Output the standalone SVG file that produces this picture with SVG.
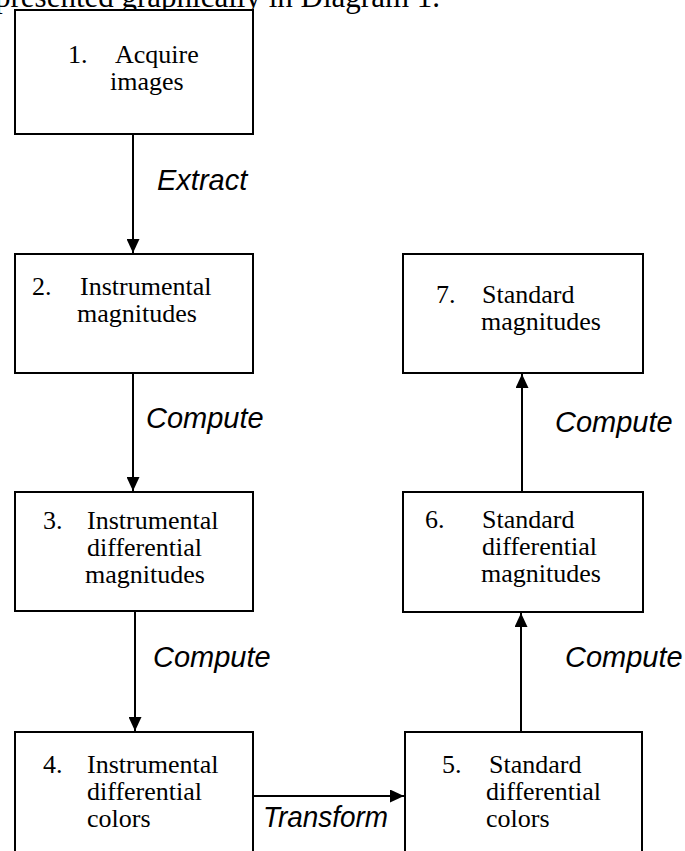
<svg xmlns="http://www.w3.org/2000/svg" width="685" height="851" viewBox="0 0 685 851">
<style>
.box{fill:#fff;stroke:#000;stroke-width:2}
.t{font-family:"Liberation Serif","Times New Roman",serif;font-size:26px;fill:#000}
.lbl{font-family:"Liberation Sans",Arial,sans-serif;font-size:29px;font-style:italic;fill:#000}
.c{stroke:#000;stroke-width:2;fill:none;marker-end:url(#ah)}
</style>
<defs>
<marker id="ah" viewBox="0 0 14 13" refX="14" refY="6.5" markerWidth="14" markerHeight="13" markerUnits="userSpaceOnUse" orient="auto">
<path d="M0,0 L14,6.5 L0,13 z" fill="#000"/>
</marker>
</defs>
<rect width="685" height="851" fill="#fff"/>
<text class="t" x="-5" y="7" style="font-size:31px">presented graphically in Diagram 1.</text>
<g id="connectors">
<line class="c" x1="133" y1="134" x2="133" y2="253"/>
<line class="c" x1="133" y1="373" x2="133" y2="491"/>
<line class="c" x1="135" y1="611" x2="135" y2="731"/>
<line class="c" x1="253" y1="796" x2="404" y2="796"/>
<line class="c" x1="521" y1="732" x2="521" y2="613"/>
<line class="c" x1="522" y1="492" x2="522" y2="374"/>
<text class="lbl" x="157" y="190">Extract</text>
<text class="lbl" x="146" y="428">Compute</text>
<text class="lbl" x="153" y="667">Compute</text>
<text class="lbl" x="263" y="827" textLength="125" lengthAdjust="spacingAndGlyphs">Transform</text>
<text class="lbl" x="565" y="667">Compute</text>
<text class="lbl" x="555" y="432">Compute</text>
</g>
<g id="n1">
<rect class="box" x="15" y="10" width="238" height="124"/>
<text class="t" x="68" y="63">1.</text>
<text class="t" x="115" y="63">Acquire</text>
<text class="t" x="110" y="90">images</text>
</g>
<g id="n2">
<rect class="box" x="15" y="254" width="238" height="119"/>
<text class="t" x="32" y="295">2.</text>
<text class="t" x="80" y="295">Instrumental</text>
<text class="t" x="77" y="322">magnitudes</text>
</g>
<g id="n3">
<rect class="box" x="15" y="492" width="238" height="119"/>
<text class="t" x="43" y="529">3.</text>
<text class="t" x="87" y="529">Instrumental</text>
<text class="t" x="87" y="556">differential</text>
<text class="t" x="85" y="583">magnitudes</text>
</g>
<g id="n4">
<rect class="box" x="15" y="732" width="238" height="140"/>
<text class="t" x="43" y="773">4.</text>
<text class="t" x="87" y="773">Instrumental</text>
<text class="t" x="87" y="800">differential</text>
<text class="t" x="87" y="827">colors</text>
</g>
<g id="n5">
<rect class="box" x="405" y="732" width="237" height="140"/>
<text class="t" x="442" y="773">5.</text>
<text class="t" x="489" y="773">Standard</text>
<text class="t" x="486" y="800">differential</text>
<text class="t" x="486" y="827">colors</text>
</g>
<g id="n6">
<rect class="box" x="403" y="492" width="240" height="120"/>
<text class="t" x="425" y="528">6.</text>
<text class="t" x="482" y="528">Standard</text>
<text class="t" x="482" y="555">differential</text>
<text class="t" x="481" y="582">magnitudes</text>
</g>
<g id="n7">
<rect class="box" x="403" y="254" width="240" height="119"/>
<text class="t" x="436" y="303">7.</text>
<text class="t" x="482" y="303">Standard</text>
<text class="t" x="481" y="330">magnitudes</text>
</g>
</svg>
